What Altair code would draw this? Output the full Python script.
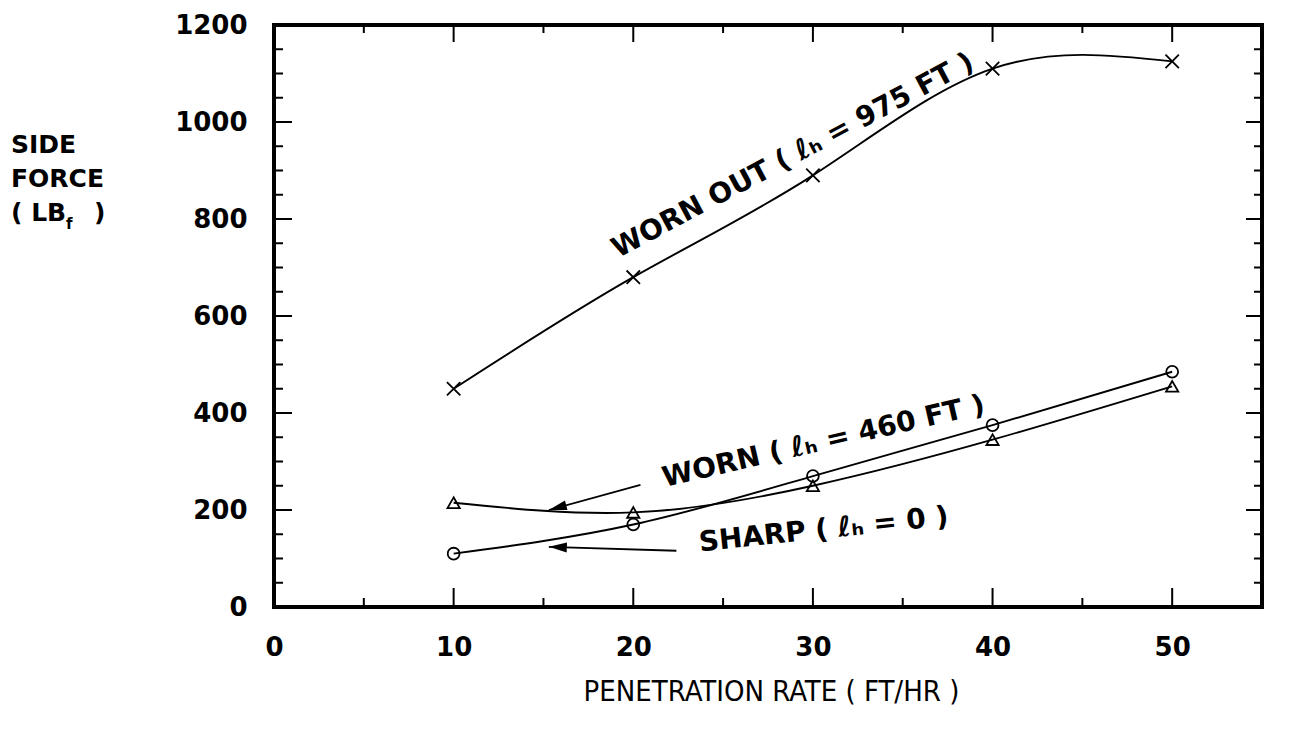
import altair as alt
import pandas as pd

# ---- data ----
rate = [10, 20, 30, 40, 50]
worn_out = [450, 680, 890, 1110, 1125]   # x markers
worn = [215, 195, 250, 345, 455]         # triangle markers
sharp = [110, 170, 270, 375, 485]        # circle markers

x_major = [0, 10, 20, 30, 40, 50]
x_minor = [5, 15, 25, 35, 45]
y_major = [0, 200, 400, 600, 800, 1000, 1200]
y_minor = [50, 100, 150, 250, 300, 350, 450, 500, 550, 650, 700, 750,
           850, 900, 950, 1050, 1100, 1150]

ann_text = ["WORN OUT ( ℓₕ = 975 FT )", "WORN ( ℓₕ = 460 FT )", "SHARP ( ℓₕ = 0 )"]
ann_x = [28.9, 30.6, 30.6]
ann_y = [930, 340, 158]
ann_angle = [332, 347, 354]

arrow_tail_x = [20.4, 22.4]
arrow_tail_y = [252, 116]
arrow_tip_x = [15.3, 15.3]
arrow_tip_y = [200, 124]
arrow_angle = [345, 2]

FONT = "DejaVu Sans"
TFONT = "'DejaVu Sans Condensed', 'Liberation Sans Narrow', 'DejaVu Sans'"
W, H = 988, 582

xs = alt.Scale(domain=[0, 55], nice=False, zero=True)
ys = alt.Scale(domain=[0, 1200], nice=False, zero=True)

XAXIS = alt.Axis(
    values=x_major, ticks=False, domain=False, grid=False, format="d",
    labelFlush=False, labelOverlap=False,
    labelFont=FONT, labelFontSize=26, labelColor="black", labelPadding=27,
    labelFontWeight="bold",
    title="PENETRATION RATE ( FT/HR )", titleFont=TFONT, titleFontSize=29,
    titleFontWeight="normal", titleColor="black", titleX=497, titleY=93,
    titleAlign="center", titleBaseline="alphabetic")
YAXIS = alt.Axis(
    values=y_major, ticks=False, domain=False, grid=False, format="d",
    labelFlush=False, labelOverlap=False,
    labelFont=FONT, labelFontSize=26, labelColor="black", labelPadding=27,
    labelFontWeight="bold", title=None)


def xe(f):
    return alt.X(f, scale=xs, axis=XAXIS)


def ye(f):
    return alt.Y(f, scale=ys, axis=YAXIS)


df = pd.DataFrame({
    "rate": rate * 3,
    "force": worn_out + worn + sharp,
    "series": ["worn_out"] * 5 + ["worn"] * 5 + ["sharp"] * 5,
})

base = alt.Chart(df)

lines = base.mark_line(interpolate="natural", color="black", strokeWidth=1.9).encode(
    x=xe("rate:Q"), y=ye("force:Q"), detail="series:N")

pts_x = base.transform_filter(alt.datum.series == "worn_out").mark_point(
    shape="M-1,-1L1,1M-1,1L1,-1", size=180, color="black", strokeWidth=1.8,
    filled=False, opacity=1).encode(x=xe("rate:Q"), y=ye("force:Q"))
pts_t = base.transform_filter(alt.datum.series == "worn").mark_point(
    shape="triangle-up", size=150, color="black", strokeWidth=1.8,
    filled=False, opacity=1).encode(x=xe("rate:Q"), y=ye("force:Q"))
pts_c = base.transform_filter(alt.datum.series == "sharp").mark_point(
    shape="circle", size=140, color="black", strokeWidth=1.8,
    filled=False, opacity=1).encode(x=xe("rate:Q"), y=ye("force:Q"))


def rules(vals, axis, a, b):
    d = alt.Chart(pd.DataFrame({"rate": vals, "force": vals}))
    if axis == "y":
        return d.mark_rule(color="black", strokeWidth=2).encode(
            y=ye("force:Q"), x=alt.value(a), x2=alt.value(b))
    return d.mark_rule(color="black", strokeWidth=2).encode(
        x=xe("rate:Q"), y=alt.value(a), y2=alt.value(b))


ticks = [
    rules(y_major, "y", 0, 18), rules(y_minor, "y", 0, 9),
    rules(y_major, "y", W, W - 16), rules(y_minor, "y", W, W - 8),
    rules(x_major, "x", H, H - 19), rules(x_minor, "x", H, H - 9),
    rules(x_major, "x", 0, 17), rules(x_minor, "x", 0, 8),
]

ann_df = pd.DataFrame({"t": ann_text, "rate": ann_x, "force": ann_y, "a": ann_angle})
ann = alt.Chart(ann_df).mark_text(
    font=FONT, fontSize=28, fontWeight="bold", color="black",
    align="center", baseline="middle").encode(
    x=xe("rate:Q"), y=ye("force:Q"),
    text="t:N", angle=alt.Angle("a:Q", scale=None))

arr_df = pd.DataFrame({"rate": arrow_tail_x, "force": arrow_tail_y,
                       "rate2": arrow_tip_x, "force2": arrow_tip_y, "a": arrow_angle})
shafts = alt.Chart(arr_df).mark_rule(color="black", strokeWidth=1.8).encode(
    x=xe("rate:Q"), y=ye("force:Q"), x2="rate2:Q", y2="force2:Q")
heads = alt.Chart(arr_df).transform_calculate(
    rate="datum.rate2", force="datum.force2").mark_point(
    shape="M0,0L2,-0.55L2,0.55Z", size=324, filled=True, color="black", opacity=1,
    strokeWidth=0).encode(
    x=xe("rate:Q"), y=ye("force:Q"), angle=alt.Angle("a:Q", scale=None))


def label(txt, px, py, size=28, weight="bold"):
    return alt.Chart(pd.DataFrame({"t": [txt]})).mark_text(
        font=FONT, fontSize=size, fontWeight=weight, color="black",
        align="left", baseline="alphabetic").encode(
        text="t:N", x=alt.value(px), y=alt.value(py))


ytitle = [
    label("SIDE", -263, 128, 25),
    label("FORCE", -263, 162, 25),
    label("( LB", -263, 196, 25),
    label("f", -208, 204, 15),
    label(")", -180, 196, 25),
]

chart = alt.layer(lines, pts_x, pts_t, pts_c, shafts, heads, ann, *ticks, *ytitle).properties(
    width=W, height=H,
    autosize=alt.AutoSizeParams(type="none"),
    padding={"left": 266, "top": 17, "right": 20, "bottom": 110},
    background="white",
).configure_view(stroke="black", strokeWidth=4)

chart.save("out.html", embed_options={"renderer": "svg", "actions": False})
